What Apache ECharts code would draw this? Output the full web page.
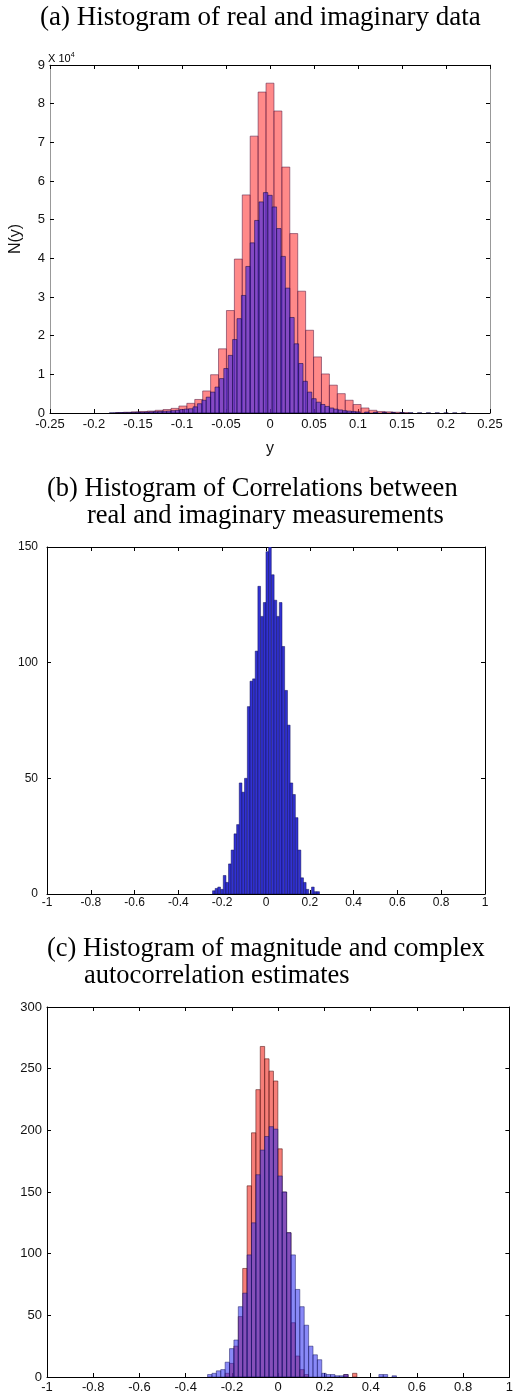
<!DOCTYPE html>
<html><head><meta charset="utf-8">
<script src="https://cdn.jsdelivr.net/npm/echarts@6/dist/echarts.min.js"></script>
<style>html,body{margin:0;padding:0;background:#fff}#c{width:516px;height:1394px}</style>
</head><body><div id="c"></div>
<script>
// ---------- Panel (a): histogram of real and imaginary data (counts in units of 1e4)
const aRedCenters = [-0.171,-0.162,-0.153,-0.144,-0.135,-0.126,-0.117,-0.108,-0.099,-0.090,-0.081,-0.072,-0.063,-0.054,-0.045,-0.036,-0.027,-0.018,-0.009,0.000,0.009,0.018,0.027,0.036,0.045,0.054,0.063,0.072,0.081,0.090,0.099,0.108,0.117,0.126,0.135,0.144,0.153];
const aRedCounts  = [0.01,0.02,0.03,0.04,0.05,0.07,0.09,0.12,0.18,0.25,0.35,0.57,0.99,1.66,2.65,3.98,5.64,7.16,8.30,8.53,7.81,6.36,4.64,3.15,2.14,1.45,1.01,0.72,0.50,0.33,0.22,0.13,0.07,0.04,0.03,0.02,0.01];
const aBlueCenters = [-0.180,-0.175,-0.170,-0.165,-0.160,-0.155,-0.150,-0.145,-0.140,-0.135,-0.130,-0.125,-0.120,-0.115,-0.110,-0.105,-0.100,-0.095,-0.090,-0.085,-0.080,-0.075,-0.070,-0.065,-0.060,-0.055,-0.050,-0.045,-0.040,-0.035,-0.030,-0.025,-0.020,-0.015,-0.010,-0.005,0.000,0.005,0.010,0.015,0.020,0.025,0.030,0.035,0.040,0.045,0.050,0.055,0.060,0.065,0.070,0.075,0.080,0.085,0.090,0.095,0.100,0.110,0.120,0.130,0.140,0.150,0.160,0.170,0.180,0.190,0.200,0.210,0.220];
const aBlueCounts  = [0.005,0.005,0.01,0.01,0.01,0.015,0.02,0.02,0.025,0.03,0.035,0.04,0.045,0.05,0.06,0.07,0.09,0.10,0.11,0.16,0.24,0.33,0.41,0.54,0.67,0.89,1.15,1.49,1.90,2.44,3.04,3.79,4.40,4.98,5.46,5.70,5.63,5.33,4.77,4.05,3.23,2.47,1.79,1.28,0.82,0.54,0.37,0.28,0.22,0.17,0.13,0.10,0.08,0.06,0.05,0.04,0.03,0.025,0.02,0.015,0.012,0.01,0.008,0.006,0.005,0.004,0.004,0.003,0.003];
const aRedWidth = 0.009, aBlueWidth = 0.005;

// ---------- Panel (b): histogram of correlations
const bCenters = [-0.238,-0.226,-0.214,-0.201,-0.189,-0.177,-0.165,-0.153,-0.140,-0.128,-0.116,-0.104,-0.092,-0.079,-0.067,-0.055,-0.043,-0.031,-0.018,-0.006,0.006,0.018,0.031,0.043,0.055,0.067,0.079,0.092,0.104,0.116,0.128,0.140,0.153,0.165,0.177,0.189,0.201,0.214,0.226,0.238];
const bCounts  = [1.4,2.4,3,2,8,5,13,19,26,30,48,44,50,81,92,93,105,133,120,126,148,150,138,127,120,126,107,88,73,48,43,33,19,7,5,2,0,3,1,1];
const bWidth = 0.0122;

// ---------- Panel (c): magnitude (red) and complex (blue) autocorrelation estimates
const cRedCenters = [-0.220,-0.201,-0.182,-0.163,-0.144,-0.125,-0.106,-0.087,-0.068,-0.049,-0.030,-0.011,0.008,0.027,0.046,0.065,0.084,0.103,0.122,0.293,0.331];
const cRedCounts  = [3,11,25,49,88,155,198,233,268,258,248,240,185,150,117,44,17,6,2,2,3];
const cBlueCenters = [-0.296,-0.277,-0.258,-0.239,-0.220,-0.201,-0.182,-0.163,-0.144,-0.125,-0.106,-0.087,-0.068,-0.049,-0.030,-0.011,0.008,0.027,0.046,0.065,0.084,0.103,0.122,0.141,0.160,0.179,0.198,0.217,0.236,0.255,0.274,0.293,0.445,0.464,0.502];
const cBlueCounts  = [2,3,5,6,12,23,30,57,68,99,125,164,184,195,203,201,163,150,117,99,71,57,42,25,18,14,3,2,2,1,1,2,2,2,1];
const cWidth = 0.019;
</script>
<script>
const chart = echarts.init(document.getElementById('c'), null, {renderer: 'canvas'});
const zip = (xs, ys) => xs.map((x, i) => [x, ys[i]]);
function hist(w, fill, stroke, lw) {
  return function (params, api) {
    const c = api.value(0), v = api.value(1);
    const p0 = api.coord([c - w / 2, v]);
    const p1 = api.coord([c + w / 2, 0]);
    return {type: 'rect', shape: {x: p0[0], y: p0[1], width: p1[0] - p0[0], height: p1[1] - p0[1]},
            style: {fill: fill, stroke: stroke, lineWidth: lw}};
  };
}
function fmtNum(v) { return String(parseFloat(Number(v).toFixed(4))); }
function lbl(size) { return {fontFamily: 'Liberation Sans, Arial, sans-serif', fontSize: size, color: '#111'}; }
function xAx(grid, min, max, interval, pos, show, lineColor, margin, fs) {
  return {type: 'value', gridIndex: grid, min, max, interval, position: pos,
    axisLine: {show: true, onZero: false, lineStyle: {color: lineColor, width: 1}},
    axisTick: {show: true, inside: true, length: 4, lineStyle: {color: '#000'}},
    splitLine: {show: false},
    axisLabel: Object.assign({show: show, margin: margin, formatter: fmtNum, hideOverlap: false}, lbl(fs))};
}
function yAx(grid, min, max, interval, pos, show, lineColor, margin, fs) {
  return {type: 'value', gridIndex: grid, min, max, interval, position: pos,
    axisLine: {show: true, onZero: false, lineStyle: {color: lineColor, width: 1}},
    axisTick: {show: true, inside: true, length: 4, lineStyle: {color: '#000'}},
    splitLine: {show: false},
    axisLabel: Object.assign({show: show, margin: margin, formatter: fmtNum}, lbl(fs))};
}
const serif = 'Liberation Serif, Times New Roman, serif';
const option = {
  animation: false,
  backgroundColor: '#fff',
  grid: [
    {left: 48, top: 65, width: 442, height: 348},
    {left: 47, top: 547, width: 438, height: 347},
    {left: 47, top: 1007, width: 468, height: 370}
  ],
  xAxis: [
    Object.assign(xAx(0, -0.25, 0.25, 0.05, 'bottom', true, '#000', 5, 13), {name: 'y', nameLocation: 'middle', nameGap: 28, nameTextStyle: {fontFamily: 'Liberation Sans, Arial', fontSize: 16, color: '#111'}}),
    xAx(0, -0.25, 0.25, 0.05, 'top', false, '#000', 5, 13),
    xAx(1, -1, 1, 0.2, 'bottom', true, '#000', 3, 12),
    xAx(1, -1, 1, 0.2, 'top', false, '#000', 3, 12),
    xAx(2, -1, 1, 0.2, 'bottom', true, '#000', 4, 13),
    xAx(2, -1, 1, 0.2, 'top', false, '#000', 4, 13)
  ],
  yAxis: [
    Object.assign(yAx(0, 0, 9, 1, 'left', true, '#999', 5, 13), {name: 'N(y)', nameLocation: 'middle', nameGap: 26, nameRotate: 90, nameTextStyle: {fontFamily: 'Liberation Sans, Arial', fontSize: 16, color: '#111'}}),
    yAx(0, 0, 9, 1, 'right', false, '#999', 5, 13),
    yAx(1, 0, 150, 50, 'left', true, '#000', 9, 12),
    yAx(1, 0, 150, 50, 'right', false, '#000', 9, 12),
    yAx(2, 0, 300, 50, 'left', true, '#000', 5, 13),
    yAx(2, 0, 300, 50, 'right', false, '#000', 5, 13)
  ],
  series: [
    {type: 'custom', xAxisIndex: 0, yAxisIndex: 0, clip: true, encode: {x: 0, y: 1},
     renderItem: hist(aRedWidth, 'rgba(255,40,40,0.55)', 'rgba(90,30,70,0.7)', 0.8), data: zip(aRedCenters, aRedCounts)},
    {type: 'custom', xAxisIndex: 0, yAxisIndex: 0, clip: true, encode: {x: 0, y: 1},
     renderItem: hist(aBlueWidth, 'rgba(50,30,235,0.6)', 'rgba(20,10,70,0.7)', 0.8), data: zip(aBlueCenters, aBlueCounts)},
    {type: 'custom', xAxisIndex: 2, yAxisIndex: 2, clip: true, encode: {x: 0, y: 1},
     renderItem: hist(bWidth, '#3232d2', 'rgba(10,10,80,0.8)', 0.6), data: zip(bCenters, bCounts)},
    {type: 'custom', xAxisIndex: 4, yAxisIndex: 4, clip: true, encode: {x: 0, y: 1},
     renderItem: hist(cWidth, 'rgba(240,40,30,0.6)', 'rgba(80,20,20,0.8)', 0.7), data: zip(cRedCenters, cRedCounts)},
    {type: 'custom', xAxisIndex: 4, yAxisIndex: 4, clip: true, encode: {x: 0, y: 1},
     renderItem: hist(cWidth, 'rgba(40,40,240,0.55)', 'rgba(20,20,90,0.7)', 0.7), data: zip(cBlueCenters, cBlueCounts)}
  ],
  graphic: [
    {type: 'text', left: 40, top: 4, style: {text: '(a) Histogram of real and imaginary data', font: '27px ' + serif, fill: '#000'}},
    {type: 'text', left: 47, top: 476, style: {text: '(b) Histogram of Correlations between', font: '26.5px ' + serif, fill: '#000'}},
    {type: 'text', left: 87, top: 503, style: {text: 'real and imaginary measurements', font: '26.5px ' + serif, fill: '#000'}},
    {type: 'text', left: 47, top: 936, style: {text: '(c) Histogram of magnitude and complex', font: '26.5px ' + serif, fill: '#000'}},
    {type: 'text', left: 84, top: 963, style: {text: 'autocorrelation estimates', font: '26.5px ' + serif, fill: '#000'}},
    {type: 'text', left: 48, top: 52, style: {rich: {b: {fontFamily: 'Liberation Sans, Arial', fontSize: 11, color: '#111'}, s: {fontFamily: 'Liberation Sans, Arial', fontSize: 7, verticalAlign: 'top', color: '#111', padding: [0,0,6,0]}}, text: '{b|X 10}{s|4}'}}
  ]
};
chart.setOption(option);
</script>
</body></html>
